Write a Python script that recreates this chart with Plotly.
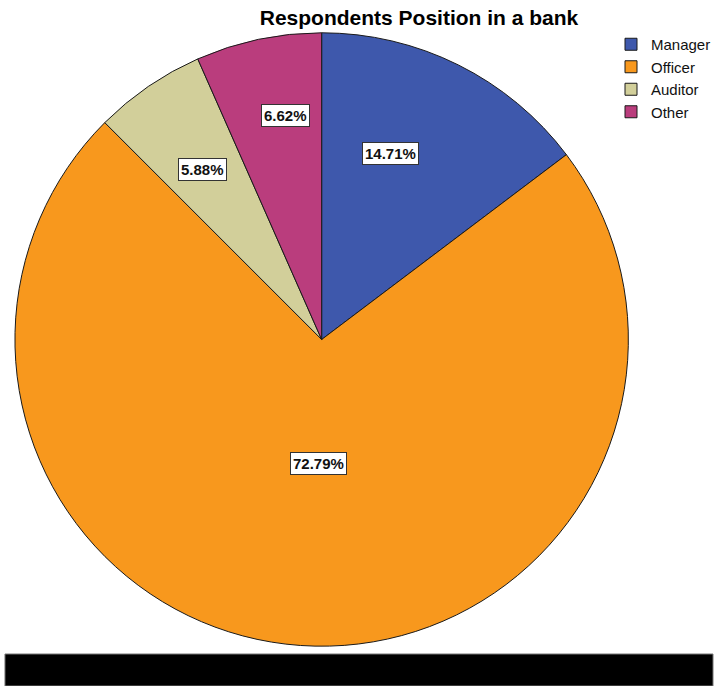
import math
import plotly.graph_objects as go

categories = ["Manager", "Officer", "Auditor", "Other"]
counts = [20, 99, 8, 9]
colors = ["#3E58AC", "#F8981D", "#D2CF9A", "#BA3D7D"]
label_radius = [0.65, 0.405, 0.675, 0.74]
label_angle_shift = [-5.5, -3.5, 0.0, 3.3]

W, H = 716, 686
cx, cy, R = 323, 339.5, 308

fig = go.Figure(go.Pie(
    labels=categories, values=counts, sort=False, direction="clockwise", rotation=0,
    marker=dict(colors=colors, line=dict(color="#1a1a1a", width=1)),
    textinfo="none", hoverinfo="label+percent",
    domain=dict(x=[(cx - R) / W, (cx + R) / W], y=[1 - (cy + R) / H, 1 - (cy - R) / H]),
))

pc, pcy, pr = 320.5, 339.5, 306
total = sum(counts)
cum = 0
for cat, v, f, da in zip(categories, counts, label_radius, label_angle_shift):
    mid = (cum + v / 2) / total * 2 * math.pi + math.radians(da)
    cum += v
    px = pc + pr * f * math.sin(mid)
    py = pcy - pr * f * math.cos(mid)
    fig.add_annotation(
        x=px / W, y=1 - py / H, xref="paper", yref="paper",
        xanchor="center", yanchor="middle",
        text="<b>%.2f%%</b>" % (v / total * 100), showarrow=False,
        font=dict(family="Liberation Sans, Arial", size=15, color="#111"),
        bgcolor="white", bordercolor="#333", borderwidth=1, borderpad=2,
    )

fig.add_shape(type="rect", xref="paper", yref="paper", x0=5 / W, x1=1, y0=0, y1=32 / H,
              fillcolor="black", line=dict(color="#777", width=1), layer="above")

fig.update_layout(
    width=W, height=H, margin=dict(l=0, r=0, t=0, b=0),
    paper_bgcolor="white", plot_bgcolor="white",
    title=dict(text="<b>Respondents Position in a bank</b>", x=419 / W, xanchor="center",
               y=1 - 18 / H, yanchor="middle",
               font=dict(family="Liberation Sans, Arial", size=21, color="black")),
    legend=dict(x=614 / W, y=1 - 28 / H, xanchor="left", yanchor="top",
                font=dict(family="Liberation Sans, Arial", size=15, color="#111"),
                tracegroupgap=0, itemwidth=30, bgcolor="rgba(0,0,0,0)"),
)

fig.write_html("out.html", config={"displayModeBar": False},
               post_script="document.body.style.margin='0';document.body.style.overflow='hidden';")
